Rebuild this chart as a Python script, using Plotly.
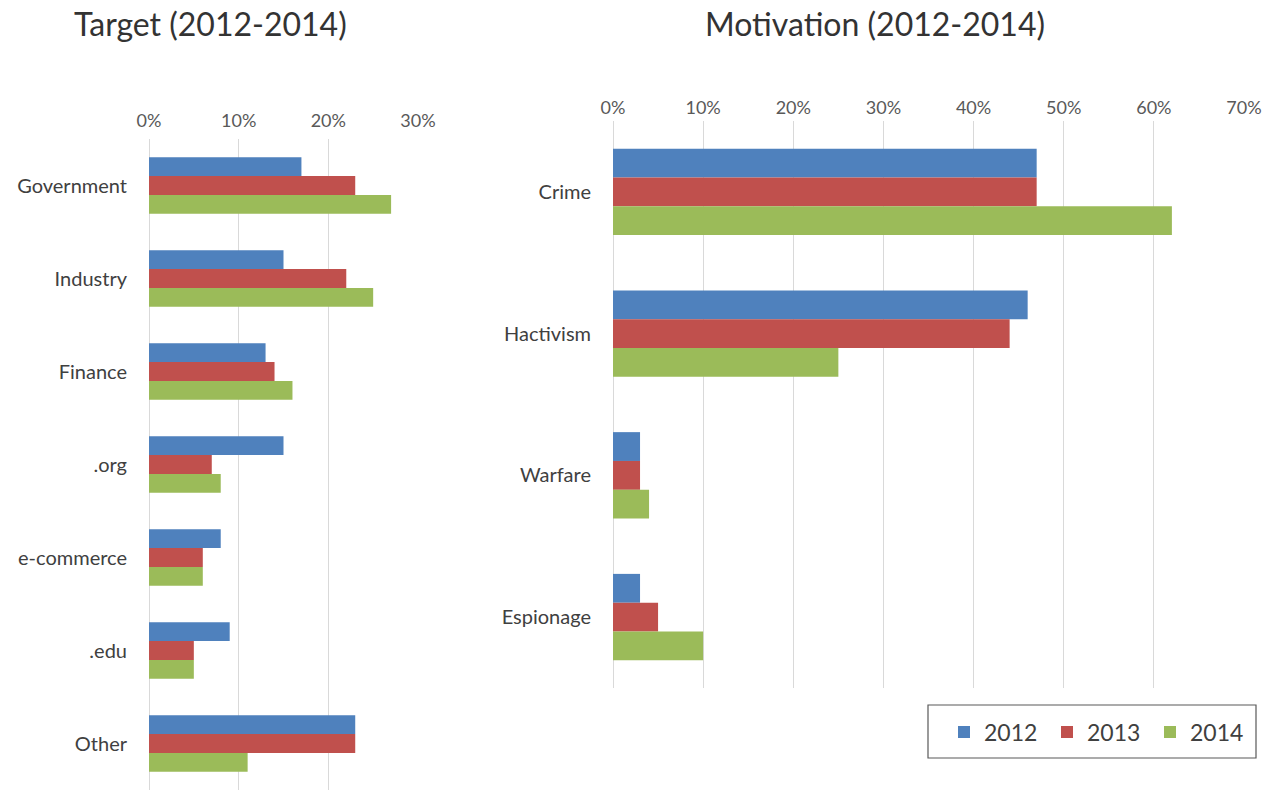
import plotly.graph_objects as go

years = ["2012", "2013", "2014"]
colors = ["#4F81BD", "#C0504D", "#9BBB59"]

target_categories = ["Government", "Industry", "Finance", ".org", "e-commerce", ".edu", "Other"]
target_2012 = [17, 15, 13, 15, 8, 9, 23]
target_2013 = [23, 22, 14, 7, 6, 5, 23]
target_2014 = [27, 25, 16, 8, 6, 5, 11]

motivation_categories = ["Crime", "Hactivism", "Warfare", "Espionage"]
motivation_2012 = [47, 46, 3, 3]
motivation_2013 = [47, 44, 3, 5]
motivation_2014 = [62, 25, 4, 10]

target_series = [target_2012, target_2013, target_2014]
motivation_series = [motivation_2012, motivation_2013, motivation_2014]

FONT = "Lato, 'Open Sans', sans-serif"

fig = go.Figure()
for i, yr in enumerate(years):
    fig.add_trace(go.Bar(
        x=target_series[i], y=target_categories, orientation="h",
        name=yr, marker=dict(color=colors[i], line=dict(width=0)),
        xaxis="x", yaxis="y", legendgroup=yr, showlegend=True,
    ))
for i, yr in enumerate(years):
    fig.add_trace(go.Bar(
        x=motivation_series[i], y=motivation_categories, orientation="h",
        name=yr, marker=dict(color=colors[i], line=dict(width=0)),
        xaxis="x2", yaxis="y2", legendgroup=yr, showlegend=False,
    ))

W, H = 1265, 791

def px_x(p):
    return p / W

def px_y(p):
    return 1 - p / H

xcommon = dict(
    side="top", showgrid=True, gridcolor="#d9d9d9", gridwidth=1,
    zeroline=True, zerolinecolor="#d9d9d9", zerolinewidth=1,
    ticksuffix="%", tickfont=dict(family=FONT, size=18, color="#595959"),
    ticks="", showline=False, dtick=10, fixedrange=True, automargin=False,
)
ycommon = dict(
    autorange="reversed", showgrid=False, zeroline=False, showline=False,
    ticks="", tickfont=dict(family=FONT, size=20, color="#404040"),
    ticklabelstandoff=21, fixedrange=True, automargin=False,
)

fig.update_layout(
    width=W, height=H,
    margin=dict(l=0, r=0, t=0, b=0),
    paper_bgcolor="white", plot_bgcolor="white",
    barmode="group", bargap=0.39, bargroupgap=0,
    font=dict(family=FONT, color="#404040"),
    xaxis=dict(domain=[px_x(149), px_x(418)], range=[0, 30], anchor="y",
               ticklabelstandoff=7, **xcommon),
    yaxis=dict(domain=[px_y(790), px_y(139)], anchor="x",
               categoryorder="array", categoryarray=target_categories, **ycommon),
    xaxis2=dict(domain=[px_x(613), px_x(1244)], range=[0, 70], anchor="y2",
                ticklabelstandoff=2, **xcommon),
    yaxis2=dict(domain=[px_y(688), px_y(121)], anchor="x2",
                categoryorder="array", categoryarray=motivation_categories, **ycommon),
    legend=dict(
        orientation="h", x=px_x(944), y=px_y(732), xanchor="left", yanchor="middle",
        borderwidth=0, bgcolor="rgba(0,0,0,0)",
        font=dict(family=FONT, size=23, color="#404040"),
        entrywidth=58, entrywidthmode="pixels", itemwidth=30,
        traceorder="normal",
    ),
    shapes=[
        dict(type="rect", xref="paper", yref="paper",
             x0=px_x(928), x1=px_x(1256), y0=px_y(758), y1=px_y(705),
             line=dict(color="#595959", width=1.2), fillcolor="rgba(0,0,0,0)", layer="below"),
    ],
    annotations=[
        dict(text="Target (2012-2014)", x=px_x(210), y=px_y(23), xref="paper", yref="paper",
             showarrow=False, xanchor="center", yanchor="middle",
             font=dict(family=FONT, size=32, color="#333333")),
        dict(text="Motivation (2012-2014)", x=px_x(875), y=px_y(23), xref="paper", yref="paper",
             showarrow=False, xanchor="center", yanchor="middle",
             font=dict(family=FONT, size=32, color="#333333")),
    ],
)

fig.write_html("out.html", config={"displayModeBar": False},
               post_script="document.body.style.margin='0';document.body.style.overflow='hidden';")
